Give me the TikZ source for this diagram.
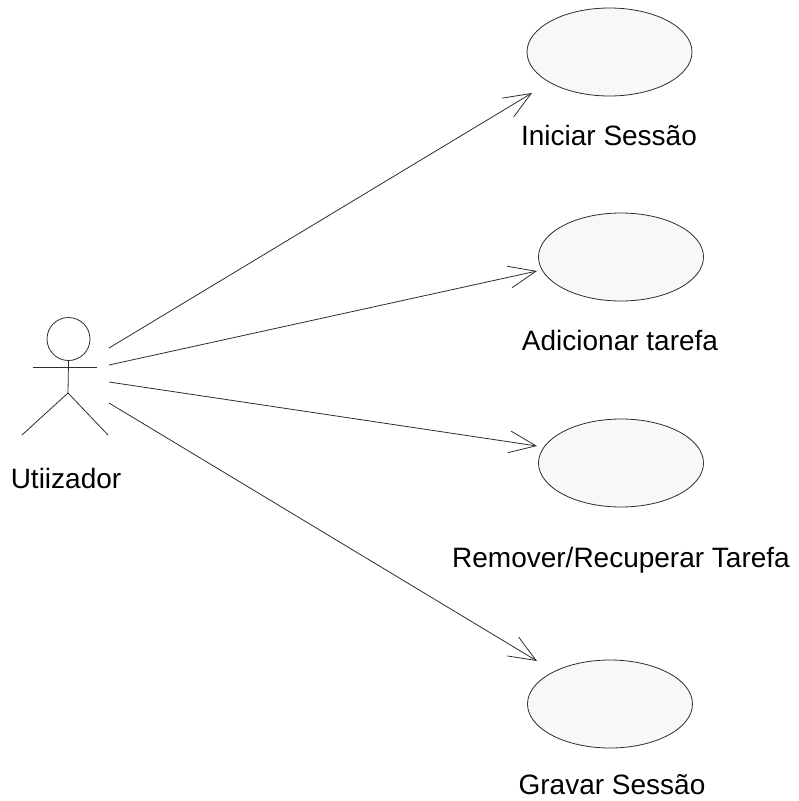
\documentclass[tikz,border=0pt]{standalone}
\usepackage{fontspec}
\setmainfont{Liberation Sans}
\usetikzlibrary{positioning,arrows.meta,shapes.geometric,calc}
\definecolor{UcFill}{RGB}{248,248,248}
\definecolor{UcLine}{RGB}{45,45,45}

\begin{document}
\begin{tikzpicture}[x=1pt, y=-1pt,
    usecase/.style={ellipse, draw=UcLine, fill=UcFill, line width=0.8pt,
        minimum width=165pt, minimum height=88pt, inner sep=0pt},
    lbl/.style={font=\fontsize{28}{34}\selectfont, text=black, anchor=base, inner sep=0pt},
    assoc/.style={-{Straight Barb[length=27pt, width=22pt]}, line width=0.8pt, UcLine},
    stick/.style={line width=0.8pt, UcLine},
]
\useasboundingbox (0,0) rectangle (799,801);

% actor
\node[circle, draw=UcLine, line width=0.8pt, minimum size=43pt, inner sep=0pt] (head) at (68.5,339) {};
\draw[stick] (head.south) -- (68,393) coordinate (hip);
\draw[stick] (33,367) -- (97,367);
\draw[stick] (22,435) -- (hip) -- (108,435);
\node[lbl] (actor) at (66,488) {Utiizador};

% use cases
\node[usecase] (uc1) at (609.5,52) {};
\node[usecase] (uc2) at (621,257) {};
\node[usecase] (uc3) at (621,463) {};
\node[usecase] (uc4) at (610,704) {};

\node[lbl] (l1) at (609,145) {Iniciar Sessão};
\node[lbl] (l2) at (620,350) {Adicionar tarefa};
\node[lbl] (l3) at (621,567) {Remover/Recuperar Tarefa};
\node[lbl] (l4) at (612,794) {Gravar Sessão};

% associations
\coordinate (s1) at (109,348);
\coordinate (s2) at (109,365);
\coordinate (s3) at (109,382);
\coordinate (s4) at (109,403);
\coordinate (t1) at ($(uc1.center)+(-77.5,41)$);
\coordinate (t2) at ($(uc2.center)+(-84,14)$);
\coordinate (t3) at ($(uc3.center)+(-84,-17)$);
\coordinate (t4) at ($(uc4.center)+(-73,-43)$);

\draw[assoc] (s1) -- (t1);
\draw[assoc] (s2) -- (t2);
\draw[assoc] (s3) -- (t3);
\draw[assoc] (s4) -- (t4);
\end{tikzpicture}
\end{document}
